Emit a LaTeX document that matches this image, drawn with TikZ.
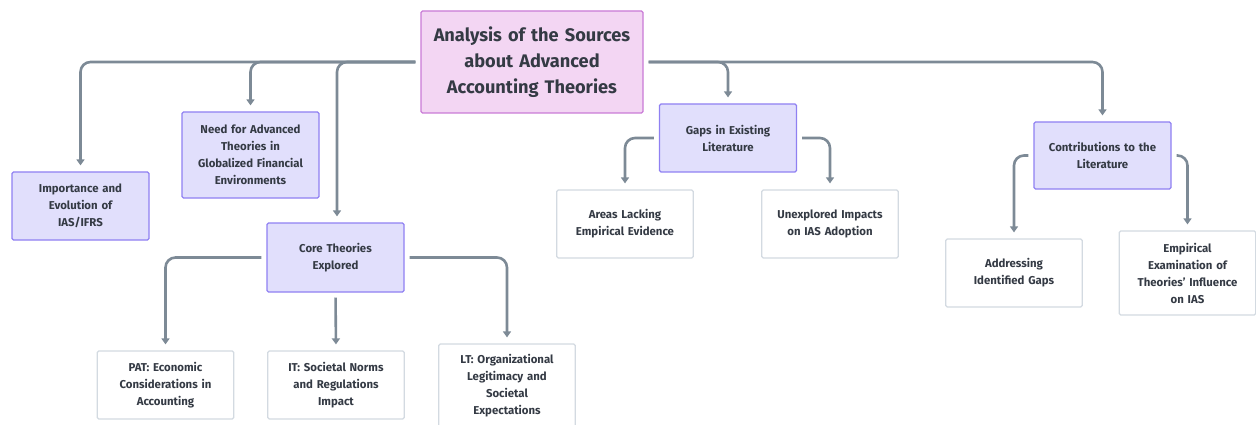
\documentclass[tikz,border=0pt]{standalone}
\usepackage{fontspec}
\setmainfont{Fira Sans}
\usetikzlibrary{arrows.meta}
\definecolor{linegray}{HTML}{7D8A96}
\definecolor{boxfill}{HTML}{E1DFFC}
\definecolor{boxline}{HTML}{8F80F2}
\definecolor{rootfill}{HTML}{F3D6F3}
\definecolor{rootline}{HTML}{C97AD6}
\definecolor{leafline}{HTML}{D3DAE1}
\definecolor{textgray}{HTML}{343A44}
\tikzset{
  rootbox/.style={draw=rootline, fill=rootfill, line width=1.2pt, rounded corners=1.5pt,
    text width=210pt, align=center, minimum width=222pt, minimum height=102pt,
    font=\fontsize{18.2}{26}\selectfont\bfseries, text=textgray},
  topicbox/.style={draw=boxline, fill=boxfill, line width=1.2pt, rounded corners=1.5pt,
    text width=130pt, align=center, minimum width=137pt,
    font=\fontsize{11.4}{17}\selectfont\bfseries, text=textgray},
  leafbox/.style={draw=leafline, fill=white, line width=1.2pt, rounded corners=1.5pt,
    text width=130pt, align=center, minimum width=136pt,
    font=\fontsize{11.4}{17}\selectfont\bfseries, text=textgray},
  conn/.style={draw=linegray, line width=2.6pt, rounded corners=10pt,
    -{Triangle[length=6pt,width=8pt]}, shorten <=5pt, shorten >=6pt}
}
\begin{document}
\begin{tikzpicture}[x=1pt, y=-1pt]
    \useasboundingbox (0,0) rectangle (1256,425);

    \node[rootbox] (root) at (532,62) {Analysis of the Sources\\about Advanced\\Accounting Theories};

    \node[topicbox, minimum height=68pt] (imp) at (80.5,206) {Importance and\\Evolution of\\IAS/IFRS};
    \node[topicbox, minimum height=86pt] (need) at (250.5,155) {Need for Advanced\\Theories in\\Globalized Financial\\Environments};
    \node[topicbox, minimum height=69pt] (core) at (335.5,257.5) {Core Theories\\Explored};
    \node[topicbox, minimum height=68pt] (gaps) at (728,138) {Gaps in Existing\\Literature};
    \node[topicbox, minimum height=67pt] (contrib) at (1102.5,155.5) {Contributions to the\\Literature};

    \node[leafbox, minimum height=68pt] (pat) at (165.5,385) {PAT: Economic\\Considerations in\\Accounting};
    \node[leafbox, minimum height=68pt] (it) at (336,385) {IT: Societal Norms\\and Regulations\\Impact};
    \node[leafbox, minimum height=84pt] (lt) at (507,386) {LT: Organizational\\Legitimacy and\\Societal\\Expectations};
    \node[leafbox, minimum height=68pt] (areas) at (625,224) {Areas Lacking\\Empirical Evidence};
    \node[leafbox, minimum height=68pt] (unexp) at (830,224) {Unexplored Impacts\\on IAS Adoption};
    \node[leafbox, minimum height=68pt] (addr) at (1014,273) {Addressing\\Identified Gaps};
    \node[leafbox, minimum height=84pt, minimum width=135pt] (emp) at (1187.5,273) {Empirical\\Examination of\\Theories' Influence\\on IAS};

    \draw[conn] (root.west) -| (imp.north);
    \draw[conn] (root.west) -| (need.north);
    \draw[conn] (root.west) -| ([xshift=1.5pt]core.north);
    \draw[conn] (root.east) -| (gaps.north);
    \draw[conn] (root.east) -| (contrib.north);

    \draw[conn] (core.west) -| (pat.north);
    \draw[conn] (core.south) -- (it.north);
    \draw[conn] (core.east) -| (lt.north);

    \draw[conn] (gaps.west) -| (areas.north);
    \draw[conn] (gaps.east) -| (unexp.north);

    \draw[conn] (contrib.west) -| (addr.north);
    \draw[conn] (contrib.east) -| (emp.north);
\end{tikzpicture}
\end{document}
